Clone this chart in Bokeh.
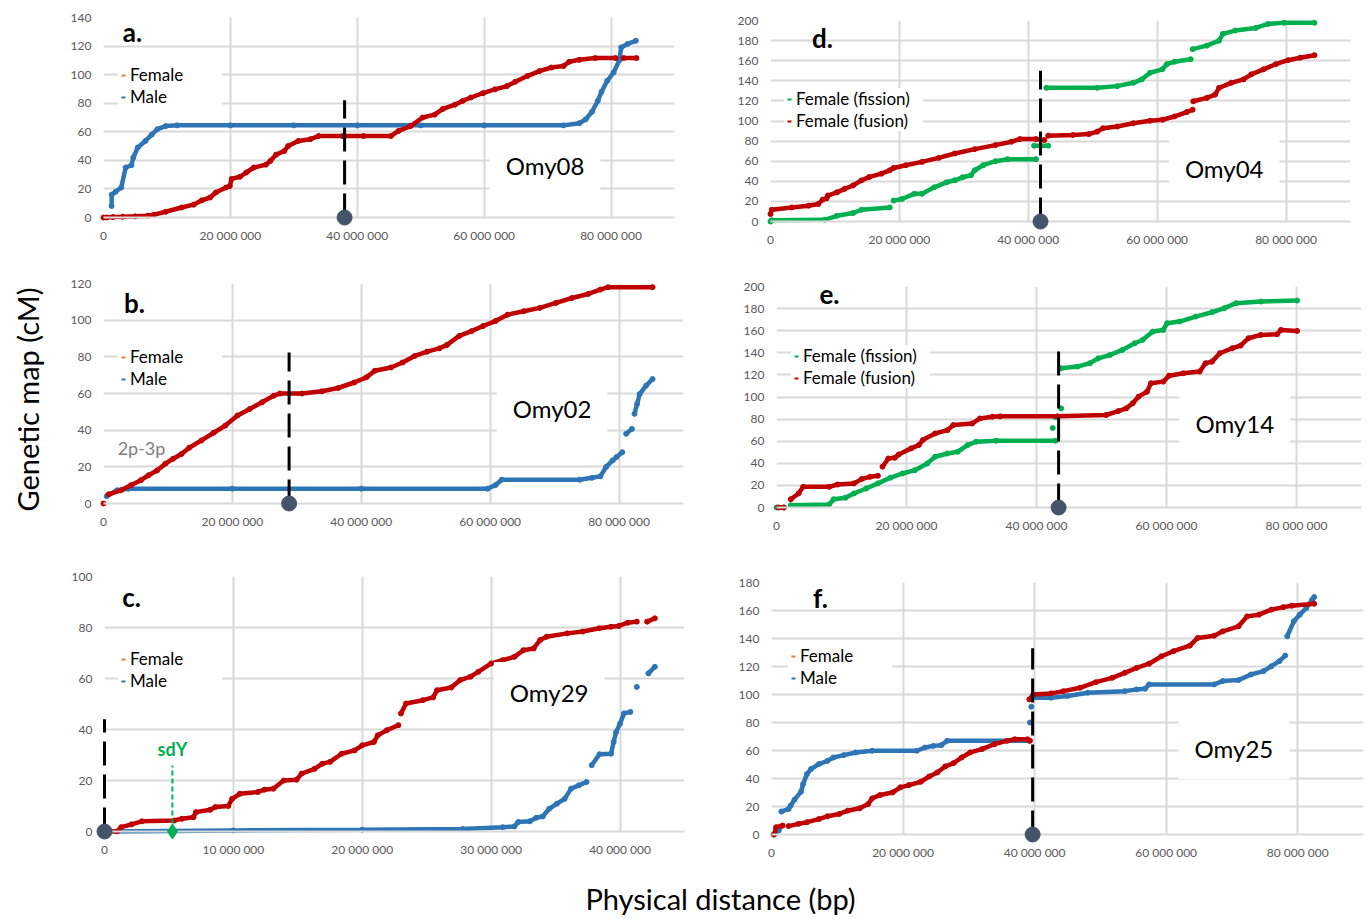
import math
from bokeh.plotting import figure
from bokeh.models import Range1d, FixedTicker, Legend, LegendItem, Label
from bokeh.layouts import row, column
from bokeh.embed import file_html
from bokeh.resources import INLINE
from bokeh.core.properties import value

NA = float("nan")
MB = 1_000_000

RED = "#c00000"
BLUE = "#2e75b6"
GREEN = "#00b050"
LEG_FEMALE = "#ed7d31"
GRID = "#d9d9d9"
TICK = "#595959"
CENTRO = "#44546a"
FONT = "Lato"

# ---------------- tick labels ----------------
x_ticks_80 = [0, 20_000_000, 40_000_000, 60_000_000, 80_000_000]
x_labels_80 = ["0", "20 000 000", "40 000 000", "60 000 000", "80 000 000"]
x_ticks_40 = [0, 10_000_000, 20_000_000, 30_000_000, 40_000_000]
x_labels_40 = ["0", "10 000 000", "20 000 000", "30 000 000", "40 000 000"]

# ---------------- panel a : Omy08 (x in Mb, y in cM) ----------------
a_female_x = [0, 0.5, 1.5, 3, 5, 7, 8, 9.8, 12.3, 14.2, 15.5, 16.8, 17.7, 19.3, 19.9, 20.2, 21.5, 22.5, 23.7,
              25.6, 26.3, 27.2, 28.5, 29.1, 30.7, 32.6, 33.9, 37.7, 41, 45.3, 46.5, 48.4, 50.3, 52.2, 53.5, 55.4,
              56.6, 57.9, 59.8, 61.7, 63.6, 64.9, 66.8, 68.7, 70.6, 72.5, 73.4, 75, 77.5, 80.7, NA, 82, 84]
a_female_y = [0, 0, 0.3, 0.5, 0.8, 1.3, 2, 4, 7, 9, 12, 14, 17.5, 21, 22, 27, 28.5, 31.5, 35,
              37, 39.6, 44, 46.6, 50, 53.6, 54.8, 57, 57, 57, 57, 60.6, 64, 70, 72, 76, 79,
              81.6, 84, 87, 89.7, 92, 95, 99, 102.5, 105, 106, 109, 110.4, 111.6, 111.6, NA, 111.6, 111.6]
a_male_x = [1.27, 1.3, 1.9, 2.8, 3.5, 4.4, 4.7, 5.4, 6.6, 7.6, 8.5, 9.8, 11.6, 20, 30, 40, 50, 60, 72.5, 75,
            76, 77, 77.9, 78.5, 79.4, 80.4, 81.3, 81.6, 82.6, 83.9]
a_male_y = [8, 16, 18, 21, 35, 36.6, 42, 49, 53.6, 58, 61.8, 64, 64.5, 64.5, 64.5, 64.5, 64.5, 64.5, 64.5, 66,
            68.7, 74, 81.6, 88, 95.7, 101.5, 110, 119, 121.5, 123.7]

# ---------------- panel b : Omy02 ----------------
b_female_x = [0, NA, 0.8, 2.7, 4.25, 5.8, 7, 8.3, 9.6, 10.8, 12.1, 13.3, 15.2, 17.1, 18.9, 20.8, 22.7, 24.6,
              26.4, 27.4, 30.8, 33.9, 36.4, 38.9, 40.8, 42.1, 44.6, 46.4, 48.3, 50.2, 52.1, 53.3, 55.2, 57.1,
              58.9, 60.8, 62.7, 65.2, 67.7, 70.2, 72.7, 75.2, 77.1, 78.3, 85.2]
b_female_y = [0, NA, 5, 7.2, 10, 12.7, 15.4, 18, 21.7, 24.4, 27, 30.4, 34.4, 38.6, 42.5, 48, 51.6, 55.2,
              58.8, 60, 60, 61.2, 63, 66, 68.8, 72.4, 74.2, 76.9, 80.5, 82.8, 84.6, 86.5, 91.4, 94,
              96.8, 99.5, 103, 104.9, 106.7, 109.4, 112.1, 114.3, 116.7, 118, 118]
b_male_x = [0.5, 2.1, 3.9, 20, 40, 59.6, 60.8, 61.8, 73.9, 75.8, 77.1, 78, 79, 79.6, 80.5, NA, 81.1, 82, NA,
            82.4, 82.8, 83.2, 84.2, 85.2]
b_male_y = [4, 7.2, 8.1, 8.1, 8.1, 8.1, 10, 13, 13, 14, 14.8, 20, 23.5, 25.3, 28, NA, 38, 40.7, NA,
            48.9, 54.3, 59.7, 64.3, 67.9]

# ---------------- panel c : Omy29 ----------------
c_female_x = [0.2, 1, 1.3, 2.1, 2.9, 5.4, 6, 6.9, 7.1, 8.2, 8.6, 9.6, 9.9, 10.5, 11.9, 12.4, 13.1, 13.9, 14.9,
              15.3, 16.3, 16.9, 17.5, 18.4, 19.4, 20, 20.9, 21.2, 21.9, 22.8, NA, 23, 23.4, 24.7, 25.5, 25.8,
              26.9, 27.6, 28.4, 29, 30, 30.9, 31.8, 32.5, 33.3, 33.8, 34.3, 35.9, 37.1, 38.4, 39.3, 39.9,
              40.6, 41.3, NA, 42.1, 42.7]
c_female_y = [0, 0.1, 1.7, 2.8, 4, 4.3, 5, 5.6, 7.6, 8.5, 9.6, 10, 12.8, 14.8, 15.5, 16.4, 16.8, 20, 20.3,
              22.7, 24.6, 26.6, 27.3, 30.5, 31.8, 33.8, 35.1, 37.7, 39.7, 41.7, NA, 46.3, 50.2, 51.5, 52.6, 55.4,
              56.5, 59.4, 60.7, 62.6, 65.9, 67.2, 68.5, 71.1, 71.8, 75.1, 76.4, 77.7, 78.4, 79.7, 80.3, 80.6,
              81.9, 82.3, NA, 82.3, 83.6]
c_male_x = [0.2, 10, 20, 27.8, 30.9, 31.8, 32.1, 33, 33.5, 34, 34.5, 35.1, 35.7, 36.2, 36.8, 37.4, NA,
            37.8, 38.4, 39.3, 39.5, 39.7, 40, 40.3, 40.8, NA, 41.3, NA, 42.2, 42.7]
c_male_y = [0, 0.4, 0.7, 1, 1.7, 2, 3.7, 4, 5.4, 5.9, 8.9, 10.9, 12.8, 16.8, 18.1, 19.4, NA,
            26, 30.3, 30.5, 35.1, 39, 42.3, 46.3, 46.9, NA, 56.7, NA, 62, 64.6]

# ---------------- panel d : Omy04 ----------------
d_fission_x = [0, 0.2, 8.4, 10.3, 12.8, 14.1, 18.5, NA, 19.1, 20.4, 22.3, 23.5, 25.4, 27.3, 28.6, 29.8, 31.1,
               31.7, 33, 34.9, 36.8, 41.2, NA, 40.9, 43.1, NA, 42.8, 50.7, 53.8, 56.3, 57.6, 58.9, 60.8, 61.5,
               62.7, 65.2, NA, 65.5, 67.7, 69.6, 70.2, 72.1, 75.3, 77.2, 79.7, 84.4]
d_fission_y = [0, 1.3, 1.7, 5.7, 8.4, 11.7, 14, NA, 20.8, 22.4, 27.5, 27.5, 34, 39, 41, 44, 46,
               51, 56, 60, 62, 62, NA, 75.4, 75.4, NA, 133, 133, 134.7, 138, 141.4, 148, 151.4, 156.5,
               159, 161.5, NA, 171.5, 175, 180, 186.7, 190, 192.6, 196.6, 197.7, 197.7]
d_fusion_x = [0, 0.2, 3.3, 5.9, 7.4, 8.1, 8.7, 8.9, 10.3, 11.5, 12.8, 14.1, 15.3, 17.2, 18.5, 19.1, 21, 23.5,
              26.1, 28.6, 31.7, 34.9, 37.4, 38.7, 41.2, 42.5, NA, 43.1, 46.9, 49.4, 50.7, 51.6, 53.8, 56.3,
              58.9, 60.8, 62.7, 64.6, 65.5, NA, 65.6, 67.7, 69, 69.6, 71.5, 73.4, 74.6, 76.5, 78.4, 80.3,
              82.2, 84.4]
d_fusion_y = [7.4, 11.7, 14, 15.7, 17.4, 21.8, 23, 25.8, 29, 32.5, 35.8, 40.9, 44.2, 47.6, 50.9, 53.3, 56, 59.3,
              63.3, 67.7, 72, 76, 79.4, 82, 82, 81, NA, 85.4, 86, 87, 89.4, 92.8, 94.5, 97.8,
              100.2, 101.2, 104.5, 108.9, 111.2, NA, 119.6, 123, 126.3, 133, 138, 141.4, 146.4, 151.4, 156.5, 160.5,
              163, 165.5]

# ---------------- panel e : Omy14 ----------------
e_fission_x = [0, 1.2, NA, 2.2, 8.1, 8.8, 10.6, 11.9, 13.8, 15.6, 17.5, 19.4, 21.3, 23.2, 24.4, 26.3, 27.9,
               29.4, 30.7, 33.8, 42.9, NA, 42.5, NA, 42.9, NA, 43.8, NA, 43.8, 46.3, 48.2, 49.5, 51.3, 53.2,
               55.1, 56.3, 57.9, 59.5, 60.1, 62, 64.5, 67, 68.9, 70.7, 74.5, 80.1]
e_fission_y = [0, 0, NA, 2, 2.7, 7.5, 8.8, 12.7, 17.2, 21.8, 26.9, 30.8, 33.8, 39.9, 45.9, 48.9, 50.5,
               56.5, 59.5, 60.4, 60.4, NA, 72, NA, 82, NA, 89.7, NA, 126, 127.5, 130.5, 135, 138, 142.6,
               148.6, 151.6, 159.2, 160.7, 166.8, 168.3, 172.8, 176.7, 180.4, 184.9, 186.4, 187.3]
e_fusion_x = [0.3, 1.1, NA, 2.2, 3.4, 4.1, 8.1, 9.4, 11.9, 13.1, 14.4, 15.6, NA, 16.3, 17.2, 18.2, 18.8, 20.7,
              21.9, 22.5, 24.4, 26.3, 27.2, 30.1, 31.3, 33.2, 34.4, 43.2, 50.7, 52.6, 53.8, 54.8, 55.7, 57,
              57.6, 59.5, 60.4, 62.6, 65.1, 66, 67, 68.2, 70.1, 71.4, 72.6, 74.5, 77, 77.6, 80.1]
e_fusion_y = [0, 0, NA, 7.5, 12.7, 18.7, 18.7, 20.8, 21.8, 25.7, 27.8, 28.7, NA, 36.9, 44.4, 45, 48, 53.5,
              56.5, 61, 67, 70, 74.6, 76, 80.6, 82.2, 82.5, 82.5, 83.7, 87.3, 89.7, 94.3, 100.3, 104.8,
              112.4, 113.9, 119.3, 121.5, 123, 130.5, 132, 139.6, 144.1, 146.5, 153.2, 156.2, 156.8, 160.7, 159.8]

# ---------------- panel f : Omy25 ----------------
f_female_x = [0.4, 0.7, 1.7, NA, 2.6, 4.1, 5.4, 7.2, 8.5, 10.3, 11.6, 13.4, 14.7, 15.3, 16.5, 18.4, 19.6, 20.9,
              22.7, 24, 25.2, 26.4, 27.7, 28.9, 30.2, 32, 33.9, 35.8, 37, 38.9, 39.3, NA, 39.2, 39.8, 42.5,
              44.4, 46.9, 49.3, 51.8, 53.7, 55.5, 57.4, 59.3, 61.1, 63.6, 64.8, 67.3, 68.6, 71, 72.3, 74.1,
              76, 77.8, 79.1, 82.5]
f_female_y = [0, 5.2, 6.4, NA, 6, 7.6, 8.8, 11, 13, 14.7, 17, 18.7, 21.8, 25.8, 28.2, 30, 33.7, 35.3,
              37.7, 41.5, 44.3, 48.6, 51, 55, 58.6, 61, 64.5, 66.9, 68, 68, 67, NA, 96.5, 100, 100.8,
              102.4, 104.8, 108.8, 111.9, 115.5, 119, 122, 127.3, 130.9, 134.9, 140.4, 142, 145.1, 148.7, 155.8, 157,
              160.6, 162.4, 163.4, 164.8]
f_male_x = [0.3, 1.1, 1.3, NA, 1.5, 2.6, 2.9, 3.5, 4.5, 4.8, 5.4, 6, 7.2, 8.5, 9.4, 11, 12.8, 15.3, 22.1,
            23.3, 24.6, 25.8, 26.7, 39.2, NA, 39.3, NA, 39.5, NA, 39.8, 42.5, 45, 48.1, 53.7, 55.5, 56.8,
            57.4, 67.3, 68.6, 71, 72.9, 74.8, 76, 77.2, 78.1, NA, 78.4, 79.4, 80.3, 81.3, 82.2, 82.5]
f_male_y = [0, 2.8, 5.2, NA, 16.4, 18.3, 20.6, 24.9, 30.6, 36, 43.2, 46.7, 50.3, 52.6, 55, 56.7, 58.6, 59.8, 59.8,
            62.1, 63.3, 63.8, 66.9, 66.9, NA, 80, NA, 91.3, NA, 97.7, 97.7, 98.9, 101.3, 102.4, 103.6, 104.1,
            107.2, 107.2, 109.6, 110.3, 114.3, 116.7, 120.2, 123.8, 127.8, NA, 141.6, 152.3, 157, 161.7, 167.7, 169.6]

# centromere positions (Mb) and dashed-line heights (cM)
centromere_mb = {"a": 38.0, "b": 28.8, "c": 0.0, "d": 41.9, "e": 43.4, "f": 39.7}
centromere_top = {"a": 82, "b": 82.4, "c": 44, "d": 150, "e": 148, "f": 133}
sdy_mb = 5.27
sdy_top = 25.9


def make_panel(width, height, bl, br, bt, bb, x_end, y_end, x_ticks, x_labels):
    p = figure(width=width, height=height,
               x_range=Range1d(0, x_end), y_range=Range1d(0, y_end),
               min_border_left=bl, min_border_right=br, min_border_top=bt, min_border_bottom=bb,
               output_backend="svg", toolbar_location=None)
    p.outline_line_color = None
    p.background_fill_color = "white"
    p.xaxis.ticker = FixedTicker(ticks=x_ticks)
    p.xaxis.major_label_overrides = {t: l for t, l in zip(x_ticks, x_labels)}
    p.yaxis.ticker = FixedTicker(ticks=list(range(0, int(y_end) + 1, 20)))
    for ax in p.axis:
        ax.major_tick_line_color = None
        ax.minor_tick_line_color = None
        ax.major_label_text_font = FONT
        ax.major_label_text_font_size = "12px"
        ax.major_label_text_color = TICK
    p.xaxis.major_label_standoff = 4
    p.yaxis.major_label_standoff = 6
    p.xaxis.axis_line_color = GRID
    p.xaxis.axis_line_width = 2
    p.yaxis.axis_line_color = None
    p.grid.grid_line_color = GRID
    p.grid.grid_line_width = 2
    return p


def add_series(p, xs_mb, ys, color):
    xs = [v * MB for v in xs_mb]
    p.line(xs, ys, line_color=color, line_width=4.5, level="guide")
    p.scatter(xs, ys, size=5, marker="circle", fill_color=color, line_color=color, level="guide")


def add_legend(p, names, colors, loc, label_width):
    items = []
    for n, c in zip(names, colors):
        r = p.scatter([NA], [NA], marker="dash", size=6, line_color=c, line_width=2)
        items.append(LegendItem(label=n, renderers=[r]))
    leg = Legend(items=items, location=loc, label_text_font=FONT, label_text_font_size="17px",
                 label_text_color="black", glyph_width=10, glyph_height=20, label_height=20,
                 label_width=label_width, label_standoff=2, spacing=1, padding=8, margin=0,
                 border_line_color=None, background_fill_color="white", background_fill_alpha=1)
    p.add_layout(leg)


def add_centromere(p, key):
    cx = centromere_mb[key] * MB
    p.segment(x0=[cx], y0=[0], x1=[cx], y1=[centromere_top[key]], line_color="black",
              line_width=3, line_dash="24 9", level="overlay")
    p.scatter([cx], [0], marker="circle", size=15, fill_color=CENTRO, line_color=CENTRO, level="overlay")


def add_texts(p, letter, lx, ly, chrom, cx, cy):
    p.add_layout(Label(x=lx * MB, y=ly, text=letter, text_font=FONT, text_font_size="26px",
                       text_font_style="bold", text_align="center", text_baseline="middle",
                       text_color="black"))
    p.add_layout(Label(x=cx * MB, y=cy, text=chrom, text_font=FONT, text_font_size="24px",
                       text_align="center", text_baseline="middle", text_color="black",
                       background_fill_color="white", padding=16))


# ---- panel a
pa = make_panel(666, 265, 49, 46, 17, 48, 90 * MB, 140, x_ticks_80, x_labels_80)
add_texts(pa, "a.", 4.57, 130, "Omy08", 69.6, 36.5)
add_legend(pa, ["Female", "Male"], [LEG_FEMALE, BLUE], (15, 110), 92)
add_series(pa, a_male_x, a_male_y, BLUE)
add_series(pa, a_female_x, a_female_y, RED)
add_centromere(pa, "a")

# ---- panel d
pd_ = make_panel(650, 265, 50, 20, 20, 44, 90 * MB, 200, x_ticks_80, x_labels_80)
add_texts(pd_, "d.", 8.06, 183, "Omy04", 70.4, 52.7)
add_legend(pd_, ["Female (fission)", "Female (fusion)"], [GREEN, RED], (14, 90), 127)
add_series(pd_, d_fission_x, d_fission_y, GREEN)
add_series(pd_, d_fusion_x, d_fusion_y, RED)
add_centromere(pd_, "d")

# ---- panel b
pb = make_panel(666, 285, 49, 37, 18, 47, 90 * MB, 120, x_ticks_80, x_labels_80)
add_texts(pb, "b.", 4.8, 109.6, "Omy02", 69.6, 51.8)
add_legend(pb, ["Female", "Male"], [LEG_FEMALE, BLUE], (15, 114), 92)
pb.add_layout(Label(x=5.9 * MB, y=30.5, text="2p-3p", text_font=FONT, text_font_size="18px",
                    text_color="#808080", text_align="center", text_baseline="middle"))
add_series(pb, b_male_x, b_male_y, BLUE)
add_series(pb, b_female_x, b_female_y, RED)
add_centromere(pb, "b")

# ---- panel e
pe = make_panel(650, 285, 56, 9, 21, 43, 90 * MB, 200, x_ticks_80, x_labels_80)
add_texts(pe, "e.", 8.15, 192.8, "Omy14", 70.5, 76)
add_legend(pe, ["Female (fission)", "Female (fusion)"], [GREEN, RED], (15, 119), 127)
add_series(pe, e_fission_x, e_fission_y, GREEN)
add_series(pe, e_fusion_x, e_fusion_y, RED)
add_centromere(pe, "e")

# ---- panel c
pc = make_panel(666, 320, 50, 36, 26, 39, 45 * MB, 100, x_ticks_40, x_labels_40)
add_texts(pc, "c.", 2.1, 91.8, "Omy29", 34.5, 54.5)
add_legend(pc, ["Female", "Male"], [LEG_FEMALE, BLUE], (14, 140), 92)
add_series(pc, c_male_x, c_male_y, BLUE)
add_series(pc, c_female_x, c_female_y, RED)
pc.segment(x0=[sdy_mb * MB], y0=[0], x1=[sdy_mb * MB], y1=[sdy_top], line_color=GREEN,
           line_width=2, line_dash="5 3", level="overlay")
pc.scatter([sdy_mb * MB], [0], marker="diamond", size=15, fill_color=GREEN, line_color=GREEN, level="overlay")
pc.add_layout(Label(x=sdy_mb * MB, y=32.5, text="sdY", text_font=FONT, text_font_size="18px",
                    text_font_style="bold", text_color=GREEN, text_align="center", text_baseline="middle"))
add_centromere(pc, "c")

# ---- panel f
pf = make_panel(650, 320, 51, 7, 32, 36, 90 * MB, 180, x_ticks_80, x_labels_80)
add_texts(pf, "f.", 7.45, 168.6, "Omy25", 70.3, 61.4)
add_legend(pf, ["Female", "Male"], [LEG_FEMALE, BLUE], (17, 146), 92)
add_series(pf, f_male_x, f_male_y, BLUE)
add_series(pf, f_female_x, f_female_y, RED)
add_centromere(pf, "f")


def text_fig(w, h):
    f = figure(width=w, height=h, x_range=Range1d(0, w), y_range=Range1d(0, h), min_border=0,
               x_axis_location=None, y_axis_location=None, output_backend="svg", toolbar_location=None)
    f.outline_line_color = None
    f.grid.visible = False
    return f


ytitle = text_fig(54, 870)
ytitle.text(x=[27], y=[471], text=["Genetic map (cM)"], angle=math.pi / 2, text_align="center",
            text_baseline="middle", text_font=value(FONT), text_font_size="29px", text_color="black")
xtitle = text_fig(1370, 49)
xtitle.text(x=[720], y=[21], text=["Physical distance (bp)"], text_align="center",
            text_baseline="middle", text_font=value(FONT), text_font_size="29px", text_color="black")

# each panel wrapped on its own so that Bokeh does not align frames across a row
grid = column(row(column(pa), column(pd_)), row(column(pb), column(pe)), row(column(pc), column(pf)))
layout = column(row(ytitle, grid), xtitle)

open("out.html", "w").write(file_html(layout, INLINE))
